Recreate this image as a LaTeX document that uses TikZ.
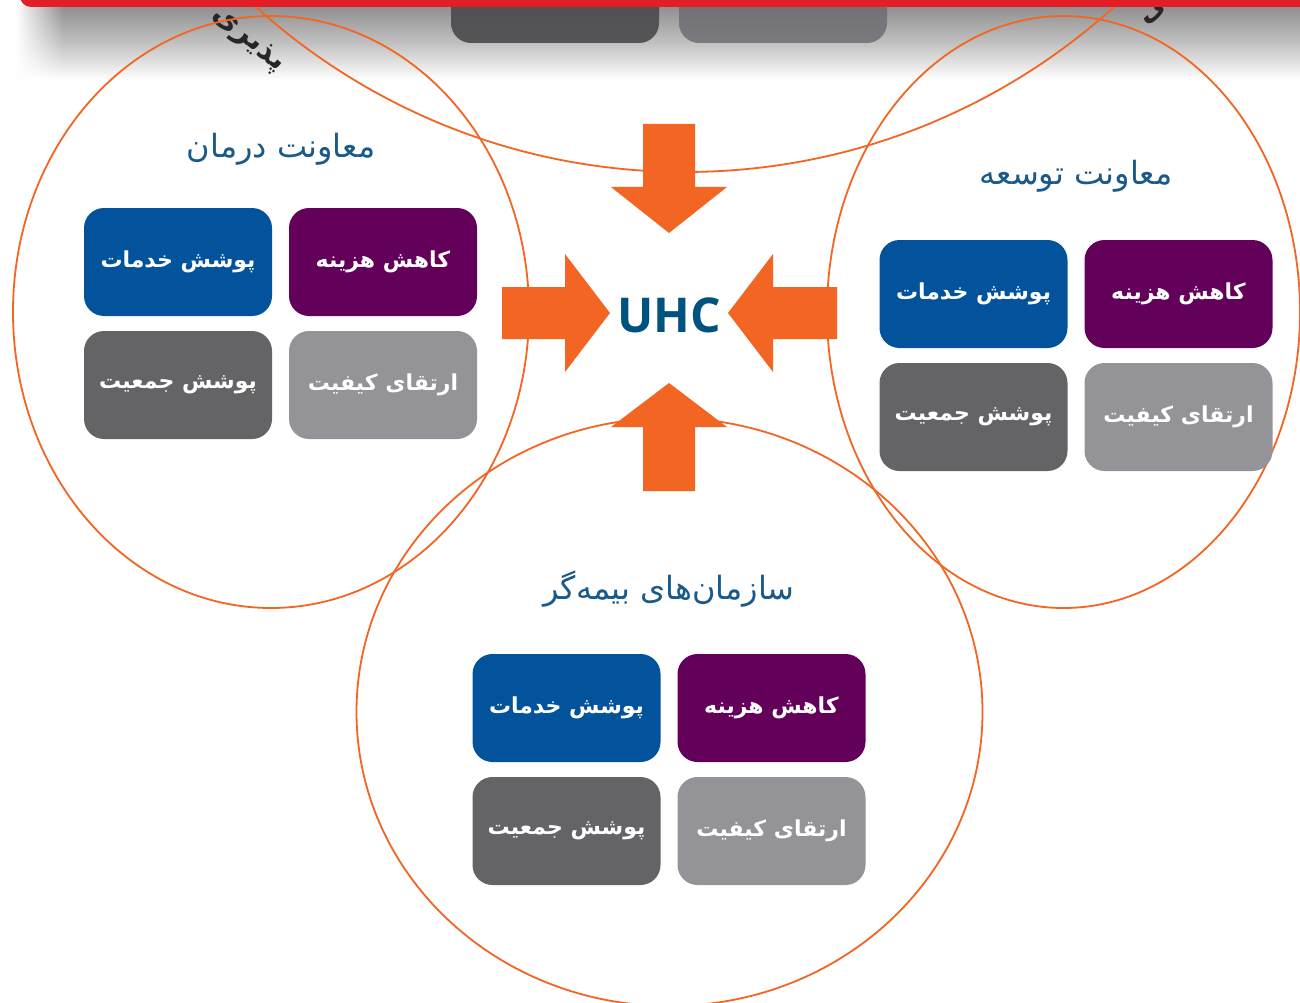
\documentclass[tikz,border=0pt]{standalone}
\usepackage{fontspec}
\newfontfamily\fa[Script=Arabic]{DejaVu Sans}
\newfontfamily\lat{Open Sans}
\TeXXeTstate=1
\usetikzlibrary{fadings}
\definecolor{cblue}{HTML}{02539B}
\definecolor{cpurp}{HTML}{62005A}
\definecolor{cdgray}{HTML}{646467}
\definecolor{clgray}{HTML}{949397}
\definecolor{corange}{HTML}{F26522}
\definecolor{ctitle}{HTML}{1A5A8A}
\definecolor{cuhc}{HTML}{00527F}
\definecolor{cred}{HTML}{E31E26}
\definecolor{cshadow}{HTML}{8F8F8F}
\definecolor{ctopa}{HTML}{434245}
\definecolor{ctopb}{HTML}{565558}
\definecolor{ctopc}{HTML}{5E5D61}
\definecolor{ctopd}{HTML}{7B7A7F}
\tikzset{
  tile/.style={rounded corners=20pt, minimum width=188pt, minimum height=108pt,
    inner sep=0pt, text=white, font=\fa\bfseries\fontsize{22}{26}\selectfont},
  ttl/.style={text=ctitle, font=\fa\fontsize{32}{36}\selectfont, inner sep=0pt},
  ring/.style={draw=corange, line width=1.8pt},
  blockarrow/.style={fill=corange},
  frag/.style={font=\fa\bfseries\fontsize{30}{34}\selectfont, inner sep=0pt, text=black!85},
}
\newcommand{\tilegroup}[3]{%
  \node[tile, fill=cblue]  (#1b) at (#2,#3) {\beginR پوشش خدمات\endR};
  \node[tile, fill=cpurp]  (#1p) at ([xshift=205pt]#1b.center) {\beginR کاهش هزینه\endR};
  \node[tile, fill=cdgray] (#1d) at ([yshift=-123pt]#1b.center) {\beginR پوشش جمعیت\endR};
  \node[tile, fill=clgray] (#1l) at ([yshift=-123pt]#1p.center) {\beginR ارتقای کیفیت\endR};
}
\begin{document}
\begin{tikzpicture}[x=1pt,y=-1pt]
\useasboundingbox (0,0) rectangle (1300,1003);
\clip (0,0) rectangle (1300,1003);
\fill[white] (0,0) rectangle (1300,1003);
% shadow band
\shade[top color=cshadow, bottom color=white, middle color=cshadow!55!white] (62,6) rectangle (1300,80);
\shade[top color=cshadow, bottom color=white, middle color=cshadow!55!white, path fading=west] (16,6) rectangle (63,80);
% rotated text fragments
\node[frag, rotate=-40] (frag1) at (248,40) {\beginR پذیری\endR};
\node[frag, rotate=40] (frag2) at (1160,10) {\beginR بی\endR};
% rings
\draw[ring] (685,-468) circle [radius=640];
\draw[ring] (271,312) ellipse [x radius=258, y radius=296];
\draw[ring] (1063.5,312) ellipse [x radius=236.5, y radius=296];
\draw[ring] (669.5,712) ellipse [x radius=313, y radius=294];
% partial top tiles
\shade[top color=ctopa, bottom color=ctopb, rounded corners=20pt] (451,-70) rectangle (659,43);
\shade[top color=ctopc, bottom color=ctopd, rounded corners=20pt] (679,-70) rectangle (887,43);
% arrows
\fill[blockarrow] (643,124) -- (695,124) -- (695,187) -- (727,187) -- (669,233) -- (611,187) -- (643,187) -- cycle;
\fill[blockarrow] (643,491) -- (695,491) -- (695,427) -- (727,427) -- (669,383) -- (611,427) -- (643,427) -- cycle;
\fill[blockarrow] (502,287) -- (565,287) -- (565,254) -- (610,313) -- (565,372) -- (565,339) -- (502,339) -- cycle;
\fill[blockarrow] (837,287) -- (773,287) -- (773,254) -- (728,313) -- (773,372) -- (773,339) -- (837,339) -- cycle;
\node[font=\lat\bfseries\fontsize{48}{52}\selectfont, text=cuhc, inner sep=0pt] (uhc) at (669,315) {UHC};
% tile groups
\tilegroup{L}{178}{262}
\tilegroup{R}{973.5}{294}
\tilegroup{B}{566.5}{708}
\node[ttl] (tL) at (281,149) {\beginR معاونت درمان\endR};
\node[ttl] (tR) at (1076,176) {\beginR معاونت توسعه\endR};
\node[ttl] (tB) at (669,589) {\beginR سازمان‌های بیمه‌گر\endR};
% red bar
\fill[cred, rounded corners=11pt] (20,-30) rectangle (1330,7);
\end{tikzpicture}
\end{document}
